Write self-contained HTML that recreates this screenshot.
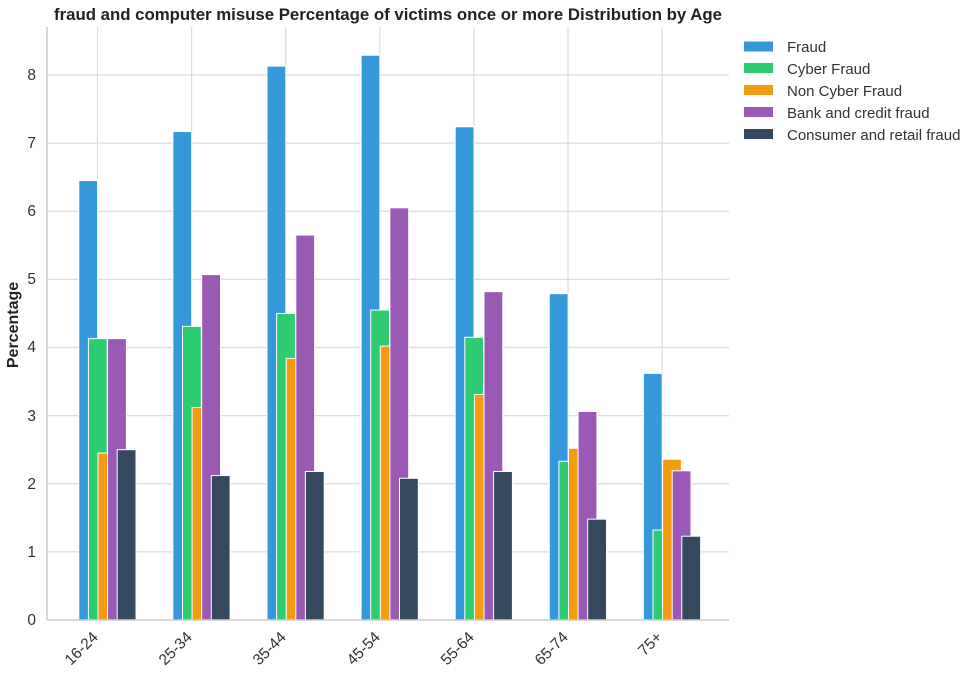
<!DOCTYPE html>
<html><head><meta charset="utf-8"><style>
body{margin:0;background:#fff;}
svg{display:block;font-family:"Liberation Sans",Arial,sans-serif;}
</style></head><body>
<svg id="s" width="966" height="677" viewBox="0 0 966 677">
<g id="grid" stroke="#dcdcdc" stroke-width="1.2"></g>
<g id="bars" stroke="#fff" stroke-width="1"></g>
<line x1="47" y1="620" x2="729" y2="620" stroke="#cccccc" stroke-width="1.5"/>
<line x1="47" y1="27" x2="47" y2="620" stroke="#cccccc" stroke-width="1.5"/>
<g font-size="15.5" fill="#333" text-anchor="end">
<text x="36" y="625">0</text><text x="36" y="557">1</text><text x="36" y="489">2</text><text x="36" y="421">3</text><text x="36" y="352">4</text><text x="36" y="284">5</text><text x="36" y="216">6</text><text x="36" y="148">7</text><text x="36" y="80">8</text>
</g>
<g font-size="15.5" fill="#333" text-anchor="end">
<text transform="translate(99,638) rotate(-45)">16-24</text>
<text transform="translate(193,638) rotate(-45)">25-34</text>
<text transform="translate(287,638) rotate(-45)">35-44</text>
<text transform="translate(381,638) rotate(-45)">45-54</text>
<text transform="translate(475,638) rotate(-45)">55-64</text>
<text transform="translate(569,638) rotate(-45)">65-74</text>
<text transform="translate(663,638) rotate(-45)">75+</text>
</g>
<text x="18" y="325" transform="rotate(-90 18 325)" font-size="16" font-weight="bold" fill="#222" text-anchor="middle">Percentage</text>
<text x="388" y="20" font-size="16.8" font-weight="bold" fill="#222" text-anchor="middle">fraud and computer misuse Percentage of victims once or more Distribution by Age</text>
<g font-size="15" fill="#333">
<rect x="744" y="41.5" width="29" height="10" fill="#3498db"/><text x="787" y="52">Fraud</text>
<rect x="744" y="63" width="29" height="10" fill="#2ecc71"/><text x="787" y="74">Cyber Fraud</text>
<rect x="744" y="85" width="29" height="10" fill="#f39c12"/><text x="787" y="96">Non Cyber Fraud</text>
<rect x="744" y="107" width="29" height="10" fill="#9b59b6"/><text x="787" y="118">Bank and credit fraud</text>
<rect x="744" y="129" width="29" height="10" fill="#34495e"/><text x="787" y="140">Consumer and retail fraud</text>
</g>
</svg>
<script>
var ns="http://www.w3.org/2000/svg";
function el(p,t,a){var e=document.createElementNS(ns,t);for(var k in a)e.setAttribute(k,a[k]);p.appendChild(e);return e;}
var g=document.getElementById('grid'),b=document.getElementById('bars');
for(var i=1;i<=8;i++){var y=620-i*68.125;el(g,'line',{x1:47,x2:729,y1:y,y2:y});}
for(var j=0;j<7;j++){var x=97.5+j*94.1;el(g,'line',{x1:x,x2:x,y1:27,y2:620});}
var d=[[6.45,4.13,2.45,4.13,2.5],[7.17,4.31,3.12,5.07,2.12],[8.13,4.50,3.84,5.65,2.18],[8.29,4.55,4.02,6.05,2.08],[7.24,4.15,3.31,4.82,2.18],[4.79,2.33,2.52,3.06,1.48],[3.62,1.32,2.36,2.19,1.23]];
var c=['#3498db','#2ecc71','#f39c12','#9b59b6','#34495e'];
for(var j=0;j<7;j++)for(var k=0;k<5;k++){var v=d[j][k],h=v*68.125;el(b,'rect',{x:78.8+j*94.1+k*9.6,y:620-h,width:18.8,height:h,fill:c[k]});}
</script>
</body></html>
